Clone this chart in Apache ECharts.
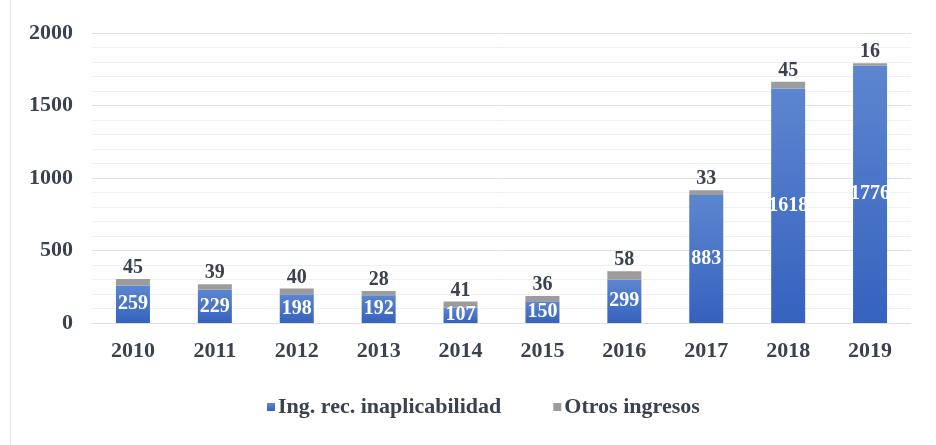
<!DOCTYPE html>
<html><head><meta charset="utf-8">
<script src="https://cdn.jsdelivr.net/npm/echarts@6/dist/echarts.min.js"></script>
<style>html,body{margin:0;padding:0;background:#fff}#c{width:936px;height:445px}</style>
</head><body><div id="c"></div>
<script>
const years = ['2010','2011','2012','2013','2014','2015','2016','2017','2018','2019'];
const ingRec = [259,229,198,192,107,150,299,883,1618,1776];
const otros = [45,39,40,28,41,36,58,33,45,16];
const yTicks = [0,500,1000,1500,2000];
const seriesNames = ['Ing. rec. inaplicabilidad','Otros ingresos'];

const font = '"Liberation Serif", "DejaVu Serif", serif';
const chart = echarts.init(document.getElementById('c'));
chart.setOption({
  animation:false,
  backgroundColor:'#fff',
  graphic:[{type:'line',shape:{x1:10.5,y1:0,x2:10.5,y2:445},style:{stroke:'#dfe3ea',lineWidth:1}}],
  grid:{left:92,right:25,top:33,bottom:122},
  legend:{
    bottom:22,left:262,itemWidth:8,itemHeight:8,itemGap:52,icon:'rect',
    textStyle:{fontFamily:font,fontWeight:'bold',fontSize:22,color:'#3a4250',padding:[0,0,0,-2]},
    data:seriesNames
  },
  xAxis:{type:'category',data:years,
    axisLine:{lineStyle:{color:'#d9dee8'}},axisTick:{show:false},
    axisLabel:{fontFamily:font,fontWeight:'bold',fontSize:22,color:'#3a4250',margin:17}},
  yAxis:{type:'value',min:yTicks[0],max:yTicks[yTicks.length-1],interval:500,
    axisLine:{show:false},axisTick:{show:false},
    axisLabel:{fontFamily:font,fontWeight:'bold',fontSize:22,color:'#3a4250',margin:19,formatter:v=>String(v)},
    splitLine:{lineStyle:{color:'#dde2ec'}},
    minorTick:{show:false,splitNumber:5},
    minorSplitLine:{show:true,lineStyle:{color:'#eef0f4'}}},
  series:[
    {name:seriesNames[0],type:'bar',stack:'t',barWidth:34,data:ingRec,
      itemStyle:{color:new echarts.graphic.LinearGradient(0,0,0,1,[{offset:0,color:'#5d86d0'},{offset:1,color:'#3562be'}])},
      label:{show:true,position:'inside',color:'#fff',fontFamily:font,fontWeight:'bold',fontSize:20}},
    {name:seriesNames[1],type:'bar',stack:'t',barWidth:34,data:otros,
      itemStyle:{color:'#9c9c9c'},
      label:{show:true,position:'top',distance:1,color:'#3a4250',fontFamily:font,fontWeight:'bold',fontSize:20}}
  ]
});
</script></body></html>
